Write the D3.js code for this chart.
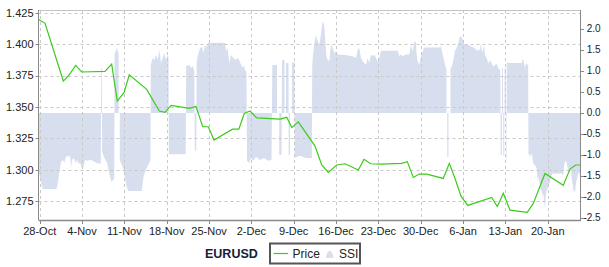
<!DOCTYPE html>
<html>
<head>
<meta charset="utf-8">
<script src="https://cdn.jsdelivr.net/npm/d3@7"></script>
<style>
  body { margin: 0; background: #fff; }
  svg { display: block; font-family: "Liberation Sans", Arial, sans-serif; }
</style>
</head>
<body>
<div class="chart"></div>
<script>
const WIDTH = 609, HEIGHT = 267;
const LEFT = 38.5, RIGHT = 580.5, TOP = 10, BOTTOM = 220;

const START = Date.UTC(2013, 9, 28); // 28-Oct, day 0
const DAY = 864e5;
const DAY_EXTENT = [-0.2, 89.42];

const DATE_TICKS = ["2013-10-28","2013-11-04","2013-11-11","2013-11-18","2013-11-25","2013-12-02","2013-12-09",
  "2013-12-16","2013-12-23","2013-12-30","2014-01-06","2014-01-13","2014-01-20"];
const PRICE_TICKS = [1.275, 1.300, 1.325, 1.350, 1.375, 1.400, 1.425];
const PRICE_EXTENT = [1.2599, 1.4272];
const SSI_TICKS = [2.0, 1.5, 1.0, 0.5, 0.0, -0.5, -1.0, -1.5, -2.0, -2.5];
const SSI_EXTENT = [-2.548, 2.452];

// price, days since 28-Oct
const priceDay = [-0.17,0.88,3.90,4.84,5.95,6.94,10.80,11.90,12.83,13.94,14.81,17.69,19.78,20.72,21.71,24.74,25.84,
  26.95,27.88,28.82,31.88,32.92,33.83,34.77,35.88,39.73,40.84,41.67,42.76,45.52,46.63,47.72,49.11,50.48,52.68,53.62,
  54.73,56.27,59.85,60.78,61.77,62.76,63.99,66.73,67.73,68.67,69.66,70.77,74.74,75.66,76.66,77.76,80.62,81.61,83.55,
  86.57,87.68,88.62,89.39];
const priceValue = [1.4197,1.4166,1.3706,1.3754,1.3831,1.3778,1.3783,1.3841,1.3546,1.3613,1.3756,1.3640,1.3467,1.3456,
  1.3512,1.3488,1.3504,1.3342,1.3342,1.3236,1.3323,1.3323,1.3448,1.3467,1.3413,1.3403,1.3417,1.3335,1.3381,1.3188,
  1.3037,1.2978,1.3037,1.3047,1.2997,1.3082,1.3047,1.3044,1.3050,1.3064,1.2938,1.2965,1.2965,1.2930,1.3050,1.2930,
  1.2789,1.2715,1.2779,1.2707,1.2811,1.2678,1.2660,1.2731,1.2970,1.2875,1.3005,1.3037,1.3037];

// SSI, days since 28-Oct (null = no reading)
const ssiDay = [-0.17,0.05,0.30,0.55,2.78,2.94,3.11,3.36,3.52,3.85,4.10,4.27,4.51,4.84,5.01,5.18,5.34,5.67,5.92,6.17,
  6.42,6.66,6.99,7.24,7.49,7.82,8.32,8.81,9.39,10.10,10.15,10.27,10.32,10.63,10.88,11.13,11.38,11.62,11.87,12.12,12.33,
  12.38,12.62,12.78,12.95,13.05,13.14,13.24,13.44,13.82,14.10,14.38,14.65,16.87,17.13,17.41,17.69,18.12,18.32,
  18.37,18.68,18.95,19.23,19.51,19.78,20.06,20.34,20.60,20.88,21.16,21.30,21.35,24.14,
  24.22,24.74,25.02,25.30,25.56,25.64,25.88,25.96,26.17,26.50,26.84,27.05,27.33,27.61,27.88,28.44,30.64,30.80,31.05,
  31.35,31.63,32.29,32.84,33.12,33.40,33.61,33.78,33.94,34.19,34.28,34.61,34.94,35.27,35.76,36.42,37.09,37.75,38.33,
  38.46,39.24,39.37,39.60,39.98,40.06,40.48,40.59,40.72,41.14,41.17,41.39,41.55,41.72,42.13,42.16,43.04,44.03,44.99,
  45.06,45.14,45.40,45.68,45.97,46.23,46.51,46.68,46.89,47.06,47.22,47.45,47.62,47.88,48.05,48.17,48.45,48.71,48.99,
  49.27,50.48,51.75,52.30,52.58,52.84,53.13,53.41,53.67,53.95,54.23,54.50,54.78,55.06,55.32,55.61,55.89,56.15,56.43,
  59.24,59.46,59.74,60.02,60.56,61.11,61.39,61.67,61.94,62.22,62.33,62.50,62.76,63.05,63.33,63.59,66.07,66.35,66.63,
  66.90,67.18,67.26,67.31,67.38,67.59,67.71,67.92,68.17,68.39,68.67,68.95,69.21,69.38,69.66,69.94,70.20,70.77,71.31,
  71.86,72.42,72.80,72.97,73.13,73.51,73.63,73.91,74.17,74.46,75.00,75.56,75.83,76.16,76.22,76.41,76.46,76.61,76.65,
  76.82,76.87,77.07,77.10,77.18,77.23,77.43,79.70,79.86,80.08,80.24,80.41,80.69,80.77,80.82,81.07,81.35,81.61,81.89,
  82.17,82.34,82.47,82.61,82.77,83.00,83.17,83.27,83.43,83.55,83.65,83.83,84.09,84.37,84.66,84.82,86.31,86.57,86.74,
  87.02,87.30,87.57,87.85,88.01,88.23,88.51,88.68,88.96,89.22,89.39];
const ssiValue = [-1.36,-1.55,-1.71,-1.81,-1.81,-1.71,-1.55,-1.31,-1.17,-1.12,-1.19,-1.07,-1.02,-1.05,-0.98,-1.31,-1.12,
  -1.07,-1.19,-1.12,-1.21,-1.19,-1.31,-1.29,-1.12,-1.14,-1.12,-1.14,-1.19,-1.21,1.07,1.07,-0.93,-1.05,-1.12,-1.19,-1.36,
  -1.52,-1.64,-1.60,-1.55,
  1.40,1.50,1.55,1.45,1.38,null,-1.12,-1.19,-1.33,-1.55,-1.76,-1.86,-1.86,-1.55,-1.40,-1.31,-1.19,-1.12,
  1.14,1.31,1.26,1.38,1.26,1.50,1.19,1.31,1.43,1.26,1.38,1.31,-0.98,-0.98,
  1.12,1.14,1.07,1.12,1.00,-0.90,-0.90,1.24,1.38,1.55,1.57,1.43,1.62,1.57,1.67,1.67,1.67,1.46,1.57,
  1.18,1.38,1.26,1.31,1.21,1.12,1.07,1.14,1.02,0.98,-1.14,-1.19,-1.07,-1.14,-1.05,-1.12,-1.07,-1.14,-1.12,
  1.14,1.14,null,-1.00,-1.00,1.26,1.26,null,1.19,1.19,-1.00,-1.00,null,1.21,1.21,-1.07,-1.02,-1.07,-1.07,
  1.07,1.31,1.63,1.86,1.71,1.63,1.86,2.10,2.18,2.06,1.71,1.31,1.27,1.23,1.47,1.63,1.55,1.43,1.47,
  1.39,1.38,1.35,1.31,1.51,1.55,1.31,1.23,1.19,1.15,1.31,1.19,1.39,1.35,1.39,1.31,1.23,1.31,1.48,
  1.48,1.35,1.39,1.35,1.39,1.39,1.63,1.47,1.71,1.67,1.39,1.23,1.15,1.35,1.47,1.56,1.56,1.59,1.39,
  1.23,1.07,1.02,null,-1.05,-1.05,null,1.07,1.12,1.26,1.48,1.56,1.66,1.79,1.83,1.75,1.63,1.63,1.59,
  1.55,1.48,1.52,1.66,1.43,1.60,1.38,1.31,1.18,1.26,1.10,1.18,1.06,1.02,-1.00,-1.00,1.07,1.07,-1.02,
  -1.02,1.07,1.07,-1.10,-1.10,1.22,1.19,1.19,1.30,1.19,1.06,1.19,1.14,1.12,-0.96,-1.04,-0.96,-1.20,-1.24,
  -1.32,-1.63,-1.50,-1.64,-1.79,-1.87,-1.95,-1.95,-2.07,-2.31,-2.00,-1.86,-1.75,-1.64,-1.48,-1.44,-1.44,-1.48,-1.21,
  -1.13,-1.31,-1.43,-1.36,-1.60,-1.83,-1.90,-1.67,-1.48,-1.40,-1.60];

const toDate = d => new Date(START + d * DAY);
const priceData = priceDay.map((d, i) => ({ t: toDate(d), v: priceValue[i] }));
const ssiData = ssiDay.map((d, i) => ({ t: toDate(d), v: ssiValue[i] }));

const svg = d3.select(".chart").append("svg").attr("width", WIDTH).attr("height", HEIGHT);
svg.append("rect").attr("width", WIDTH).attr("height", HEIGHT).attr("fill", "#fff");

const x = d3.scaleUtc().domain(DAY_EXTENT.map(toDate)).range([LEFT, RIGHT]);
const yPrice = d3.scaleLinear().domain(PRICE_EXTENT).range([BOTTOM, TOP]);
const ySsi = d3.scaleLinear().domain(SSI_EXTENT).range([BOTTOM, TOP]);
const dateTicks = DATE_TICKS.map(d3.utcParse("%Y-%m-%d"));

// SSI area
svg.append("path")
  .datum(ssiData)
  .attr("fill", "#d7deee")
  .attr("d", d3.area().defined(d => d.v != null)
    .x(d => x(d.t)).y0(ySsi(0)).y1(d => ySsi(d.v)));

// grid
const grid = svg.append("g").attr("stroke", "#c9c9c9").attr("stroke-dasharray", "3,3");
grid.selectAll("line.h").data(PRICE_TICKS).join("line")
  .attr("x1", LEFT).attr("x2", RIGHT)
  .attr("y1", d => Math.round(yPrice(d)) + 0.5).attr("y2", d => Math.round(yPrice(d)) + 0.5);
grid.selectAll("line.v").data(dateTicks).join("line")
  .attr("y1", TOP).attr("y2", BOTTOM)
  .attr("x1", d => Math.round(x(d)) + 0.5).attr("x2", d => Math.round(x(d)) + 0.5);

// price line
svg.append("path")
  .datum(priceData)
  .attr("fill", "none")
  .attr("stroke", "#3ccb1c")
  .attr("stroke-width", 1.2)
  .attr("d", d3.line().x(d => x(d.t)).y(d => yPrice(d.v)));

// frame
svg.append("line").attr("x1", LEFT).attr("x2", RIGHT).attr("y1", TOP + 0.5).attr("y2", TOP + 0.5).attr("stroke", "#c4c4c4");
svg.append("line").attr("x1", LEFT).attr("x2", LEFT).attr("y1", TOP).attr("y2", BOTTOM).attr("stroke", "#8a8a8a");
svg.append("line").attr("x1", RIGHT).attr("x2", RIGHT).attr("y1", TOP).attr("y2", BOTTOM).attr("stroke", "#8a8a8a");
svg.append("line").attr("x1", LEFT).attr("x2", RIGHT + 0.5).attr("y1", BOTTOM + 0.5).attr("y2", BOTTOM + 0.5)
  .attr("stroke", "#8a8a8a").attr("stroke-width", 1.5);

// left axis
const left = svg.append("g").attr("font-size", 11).attr("fill", "#222");
left.selectAll("line").data(PRICE_TICKS).join("line")
  .attr("x1", LEFT - 3).attr("x2", LEFT)
  .attr("y1", d => Math.round(yPrice(d)) + 0.5).attr("y2", d => Math.round(yPrice(d)) + 0.5)
  .attr("stroke", "#8a8a8a");
left.selectAll("text").data(PRICE_TICKS).join("text")
  .attr("x", LEFT - 5).attr("y", d => yPrice(d)).attr("dy", "0.35em")
  .attr("text-anchor", "end")
  .text(d => d.toFixed(3));

// right axis
const right = svg.append("g").attr("font-size", 10).attr("fill", "#222");
right.selectAll("line").data(SSI_TICKS).join("line")
  .attr("x1", RIGHT).attr("x2", RIGHT + 3.5)
  .attr("y1", d => Math.round(ySsi(d)) + 0.5).attr("y2", d => Math.round(ySsi(d)) + 0.5)
  .attr("stroke", "#8a8a8a");
right.selectAll("text").data(SSI_TICKS).join("text")
  .attr("x", d => d < 0 ? RIGHT + 2.9 : RIGHT + 6.2)
  .attr("y", d => ySsi(d)).attr("dy", "0.35em")
  .text(d => d.toFixed(1));

// bottom axis
const bottom = svg.append("g").attr("font-size", 11).attr("fill", "#222");
bottom.selectAll("line").data(dateTicks).join("line")
  .attr("x1", d => Math.round(x(d)) + 0.5).attr("x2", d => Math.round(x(d)) + 0.5)
  .attr("y1", BOTTOM).attr("y2", BOTTOM + 4)
  .attr("stroke", "#8a8a8a");
bottom.selectAll("text").data(dateTicks).join("text")
  .attr("x", d => x(d)).attr("y", 235)
  .attr("text-anchor", "middle")
  .text(d3.utcFormat("%-d-%b"));

// title + legend
svg.append("text").attr("x", 205).attr("y", 257.5)
  .attr("font-size", 12.5).attr("font-weight", "bold").attr("fill", "#14203c")
  .text("EURUSD");

const legend = svg.append("g").attr("font-size", 12).attr("fill", "#222");
legend.append("rect").attr("x", 270).attr("y", 243.5).attr("width", 90).attr("height", 20)
  .attr("fill", "#fff").attr("stroke", "#555").attr("stroke-width", 2);
legend.append("line").attr("x1", 273.5).attr("x2", 288).attr("y1", 253.5).attr("y2", 253.5)
  .attr("stroke", "#3ccb1c").attr("stroke-width", 1.2);
legend.append("text").attr("x", 292.5).attr("y", 257.5).text("Price");
const mound = d3.path();
mound.moveTo(326, 258);
mound.bezierCurveTo(327, 248.5, 332.5, 248.5, 333.5, 258);
mound.closePath();
legend.append("path").attr("d", mound.toString()).attr("fill", "#d7deee");
legend.append("text").attr("x", 339).attr("y", 257.5).text("SSI");
</script>
</body>
</html>
